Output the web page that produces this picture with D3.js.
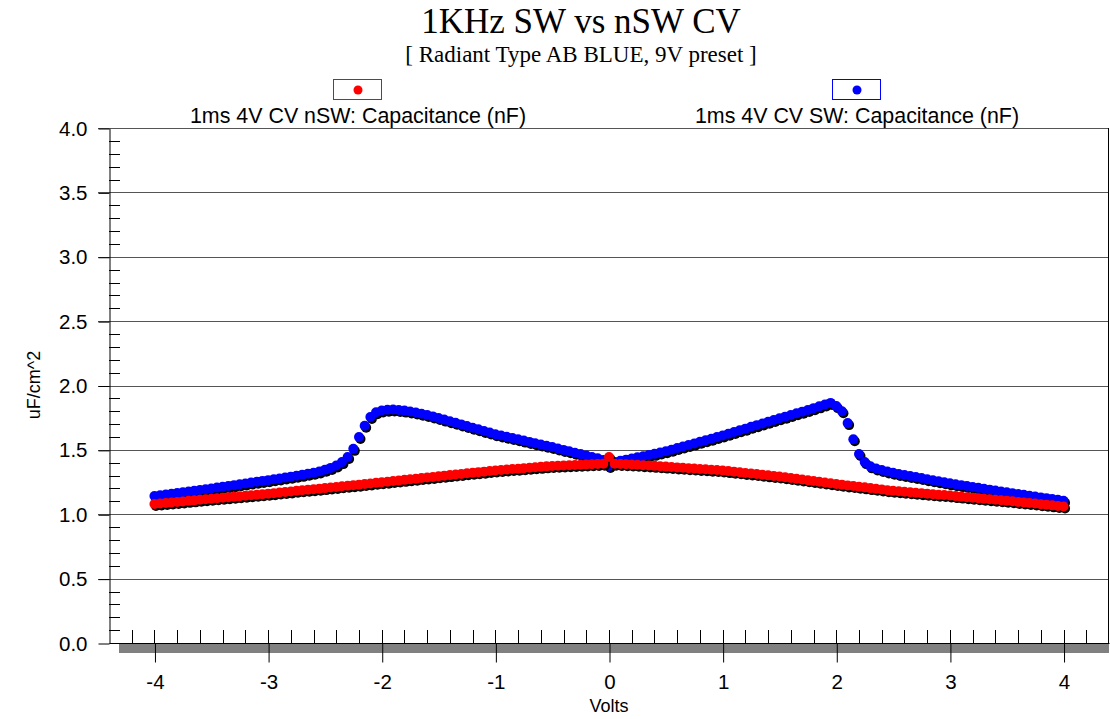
<!DOCTYPE html>
<html>
<head>
<meta charset="utf-8">
<script src="https://cdn.jsdelivr.net/npm/d3@7"></script>
<style>
body { margin: 0; background: #fff; }
text { font-family: Arial, "Liberation Sans", sans-serif; }
</style>
</head>
<body>
<svg id="cv_chart" width="1110" height="719"></svg>
<script>

// sweep runs -4 V .. +4 V, one reading every 0.05 V
var sweepStart = -4, sweepStep = 0.05;

// 1ms 4V CV nSW (red)
var nswCap = [
    1.080,1.084,1.088,1.092,1.096,1.100,1.104,1.108,1.112,1.116,
    1.120,1.124,1.128,1.132,1.136,1.140,1.144,1.148,1.152,1.156,
    1.160,1.164,1.169,1.173,1.177,1.182,1.186,1.190,1.194,1.199,
    1.203,1.208,1.212,1.217,1.221,1.226,1.230,1.235,1.239,1.244,
    1.248,1.253,1.258,1.262,1.267,1.272,1.276,1.281,1.286,1.290,
    1.295,1.300,1.304,1.309,1.313,1.318,1.322,1.327,1.331,1.336,
    1.340,1.344,1.347,1.351,1.354,1.358,1.361,1.365,1.368,1.372,
    1.375,1.377,1.379,1.381,1.383,1.385,1.387,1.389,1.391,1.393,
    1.445,
    1.392,1.390,1.388,1.386,1.384,1.381,1.379,1.376,1.373,
    1.370,1.367,1.364,1.361,1.358,1.355,1.352,1.349,1.346,1.343,
    1.340,1.335,1.331,1.326,1.321,1.317,1.312,1.307,1.302,1.298,
    1.293,1.287,1.281,1.276,1.270,1.264,1.258,1.252,1.247,1.241,
    1.235,1.230,1.224,1.219,1.214,1.209,1.203,1.198,1.193,1.187,
    1.182,1.178,1.175,1.171,1.167,1.164,1.160,1.156,1.152,1.149,
    1.145,1.141,1.137,1.133,1.129,1.125,1.121,1.117,1.113,1.109,
    1.105,1.101,1.096,1.092,1.087,1.083,1.078,1.074,1.069,1.065,
    1.060
];

// 1ms 4V CV SW (blue)
var swCap = [
    1.142,1.148,1.154,1.159,1.165,1.171,1.177,1.183,1.188,1.194,
    1.200,1.207,1.213,1.220,1.226,1.233,1.239,1.246,1.252,1.259,
    1.265,1.272,1.278,1.285,1.292,1.299,1.306,1.314,1.322,1.332,
    1.345,1.360,1.378,1.405,1.445,1.508,1.600,1.688,1.755,1.792,
    1.806,1.812,1.813,1.810,1.805,1.798,1.790,1.781,1.771,1.760,
    1.748,1.735,1.723,1.710,1.698,1.685,1.672,1.660,1.647,1.635,
    1.622,1.612,1.602,1.592,1.582,1.572,1.562,1.552,1.542,1.532,
    1.522,1.511,1.500,1.489,1.478,1.467,1.456,1.445,1.434,1.422,
    1.375,
    1.405,1.415,1.424,1.433,1.442,1.451,1.460,1.469,1.479,
    1.489,1.501,1.514,1.526,1.538,1.550,1.563,1.575,1.587,1.600,
    1.612,1.625,1.639,1.652,1.665,1.679,1.692,1.705,1.718,1.732,
    1.745,1.758,1.771,1.784,1.797,1.810,1.824,1.838,1.852,1.865,
    1.840,1.800,1.708,1.582,1.468,1.405,1.372,1.356,1.343,1.332,
    1.322,1.313,1.305,1.297,1.289,1.281,1.272,1.264,1.256,1.248,
    1.240,1.233,1.226,1.219,1.212,1.205,1.198,1.191,1.184,1.177,
    1.170,1.164,1.157,1.151,1.144,1.138,1.131,1.125,1.118,1.112,
    1.105
];

var yTicks = [0.0, 0.5, 1.0, 1.5, 2.0, 2.5, 3.0, 3.5, 4.0];
var xTicks = [-4, -3, -2, -1, 0, 1, 2, 3, 4];

var titleText = "1KHz SW vs nSW CV";
var subTitleText = "[ Radiant Type AB BLUE, 9V preset ]";
var xLabel = "Volts";
var yLabel = "uF/cm^2";

// blue first so red sits on top like the original
var series = [
    {name: "1ms 4V CV SW: Capacitance (nF)",  values: swCap,  color: "#0000ff", legendX: 857},
    {name: "1ms 4V CV nSW: Capacitance (nF)", values: nswCap, color: "#ff0000", legendX: 358}
];


var svg = d3.select("#cv_chart");
var plotLeft = 109, plotRight = 1109, plotTop = 128, plotBottom = 643;

var x = d3.scaleLinear().domain([-4.4, 4.4]).range([plotLeft, plotRight]);
var y = d3.scaleLinear().domain([0, 4]).range([plotBottom, plotTop]);

// titles
svg.append("text")
    .attr("x", 581).attr("y", 33)
    .attr("text-anchor", "middle")
    .style("font-family", "'Liberation Serif', 'Times New Roman', serif")
    .style("font-size", "35px")
    .text(titleText);

svg.append("text")
    .attr("x", 581).attr("y", 62)
    .attr("text-anchor", "middle")
    .style("font-family", "'Liberation Serif', 'Times New Roman', serif")
    .style("font-size", "23px")
    .text(subTitleText);

// legend: small box with a dot, name underneath
series.forEach(function(s) {
    var lg = svg.append("g");
    lg.append("rect")
        .attr("x", s.legendX - 24.5).attr("y", 79.5)
        .attr("width", 48).attr("height", 20)
        .attr("fill", "#fff")
        .attr("stroke", s.color);
    lg.append("circle")
        .attr("cx", s.legendX).attr("cy", 90)
        .attr("r", 4.5)
        .attr("fill", s.color);
    lg.append("text")
        .attr("x", s.legendX).attr("y", 123)
        .attr("text-anchor", "middle")
        .style("font-size", "21.4px")
        .text(s.name);
});

// horizontal grid
svg.append("g").selectAll("line")
    .data(yTicks.filter(function(d) { return d > 0; }))
    .enter().append("line")
        .attr("x1", plotLeft - 11).attr("x2", plotRight)
        .attr("y1", function(d) { return Math.round(y(d)) + 0.5; })
        .attr("y2", function(d) { return Math.round(y(d)) + 0.5; })
        .attr("stroke", "#555");

// grey strip under the x axis
svg.append("rect")
    .attr("x", 119).attr("y", plotBottom)
    .attr("width", plotRight - 119).attr("height", 10)
    .attr("fill", "#808080");

// right border
svg.append("line")
    .attr("x1", plotRight - 0.5).attr("x2", plotRight - 0.5)
    .attr("y1", plotTop).attr("y2", plotBottom)
    .attr("stroke", "#000");

// y axis with major labels
var yAxis = svg.append("g")
    .attr("transform", "translate(" + (plotLeft + 0.5) + ",0.5)")
    .call(d3.axisLeft(y).tickValues(yTicks).tickFormat(d3.format(".1f"))
        .tickSize(11).tickSizeOuter(0).tickPadding(11));
yAxis.selectAll("text").style("font-size", "20.5px").style("font-family", "Arial, 'Liberation Sans', sans-serif").attr("fill", "#000");
yAxis.selectAll("line,path").attr("stroke", "#000");

// y minor ticks (every 0.1) pointing into the plot
svg.append("g").selectAll("line")
    .data(d3.range(1, 40).filter(function(i) { return i % 5 != 0; }).map(function(i) { return i / 10; }))
    .enter().append("line")
        .attr("x1", plotLeft).attr("x2", plotLeft + 11)
        .attr("y1", function(d) { return Math.round(y(d)) + 0.5; })
        .attr("y2", function(d) { return Math.round(y(d)) + 0.5; })
        .attr("stroke", "#000");

// x axis: labels + lower half of the major ticks (plain hyphen for negatives)
var xAxis = svg.append("g")
    .attr("transform", "translate(0.5," + (plotBottom + 0.5) + ")")
    .call(d3.axisBottom(x).tickValues(xTicks).tickFormat(function(d) { return String(d); })
        .tickSize(19).tickSizeOuter(0).tickPadding(12));
xAxis.selectAll("text").style("font-size", "20.5px").style("font-family", "Arial, 'Liberation Sans', sans-serif").attr("fill", "#000");
xAxis.selectAll("line,path").attr("stroke", "#000");
xAxis.select(".domain").attr("d", "M" + plotLeft + ",0H" + plotRight);

// x minor ticks every 0.2, standing up from the axis
svg.append("g").selectAll("line")
    .data(d3.range(-21, 22).map(function(i) { return i / 5; }))
    .enter().append("line")
        .attr("x1", function(d) { return Math.round(x(d)) + 0.5; })
        .attr("x2", function(d) { return Math.round(x(d)) + 0.5; })
        .attr("y1", plotBottom).attr("y2", plotBottom - 13)
        .attr("stroke", "#000");

// axis titles
svg.append("text")
    .attr("x", 609).attr("y", 712)
    .attr("text-anchor", "middle")
    .style("font-size", "18px")
    .text(xLabel);

svg.append("text")
    .attr("transform", "translate(40,385) rotate(-90)")
    .attr("text-anchor", "middle")
    .style("font-size", "18px")
    .text(yLabel);

// data: every reading is a dot with a black drop shadow
series.forEach(function(s) {
    var pts = s.values.map(function(v, i) { return [sweepStart + i * sweepStep, v]; });
    var g = svg.append("g");
    g.selectAll("circle.shadow")
        .data(pts)
        .enter().append("circle")
            .attr("class", "shadow")
            .attr("cx", function(d) { return x(d[0]) + 1.5; })
            .attr("cy", function(d) { return y(d[1]) + 2; })
            .attr("r", 5)
            .attr("fill", "#000");
    g.selectAll("circle.dot")
        .data(pts)
        .enter().append("circle")
            .attr("class", "dot")
            .attr("cx", function(d) { return x(d[0]); })
            .attr("cy", function(d) { return y(d[1]); })
            .attr("r", 5)
            .attr("fill", s.color);
});

</script>
</body>
</html>
